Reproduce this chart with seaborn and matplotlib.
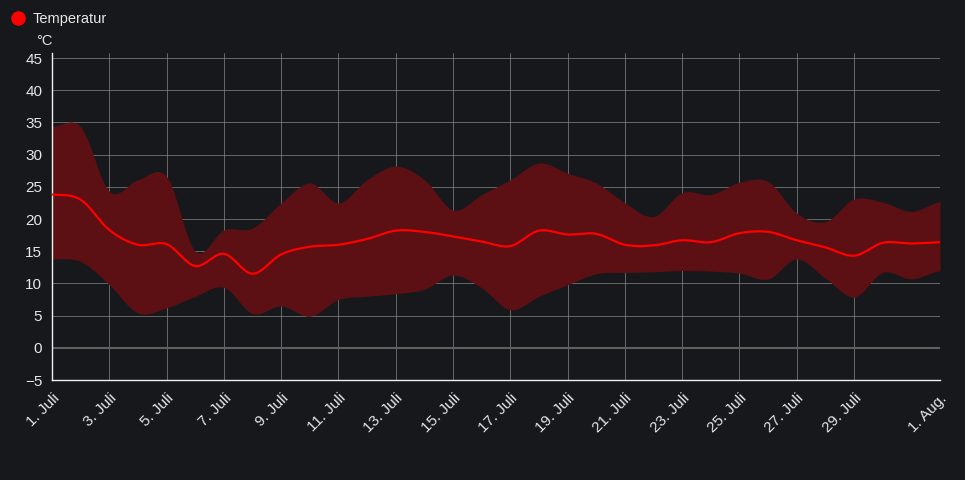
import matplotlib
matplotlib.use("Agg")
import matplotlib.pyplot as plt
import matplotlib.dates as mdates
from matplotlib.lines import Line2D
import numpy as np
import pandas as pd
import seaborn as sns

# daily values, 1. Juli .. 1. Aug.
days = pd.date_range("2024-07-01", "2024-08-01", freq="D")
temp_mean = [23.8, 23.0, 18.3, 16.0, 16.1, 12.7, 14.6, 11.5, 14.5, 15.7,
             16.0, 16.9, 18.2, 18.0, 17.3, 16.5, 15.8, 18.2, 17.6, 17.7,
             16.0, 15.9, 16.7, 16.4, 17.8, 18.0, 16.7, 15.6, 14.3, 16.3,
             16.2, 16.4]
temp_max = [34.4, 34.3, 24.3, 26.1, 26.6, 15.0, 18.3, 18.6, 22.5, 25.6,
            22.5, 26.1, 28.2, 26.1, 21.4, 23.8, 26.1, 28.7, 27.1, 25.6,
            22.5, 20.4, 24.1, 23.8, 25.7, 25.8, 20.9, 19.6, 23.1, 22.6,
            21.2, 22.7]
temp_min = [13.8, 13.4, 9.8, 5.4, 6.2, 8.0, 9.4, 5.3, 6.5, 4.9,
            7.5, 8.0, 8.4, 9.1, 11.3, 9.3, 5.9, 8.0, 9.8, 11.5,
            11.7, 11.8, 12.0, 11.9, 11.6, 10.7, 13.8, 10.8, 7.9, 11.7,
            10.7, 12.0]

tick_days = [1, 3, 5, 7, 9, 11, 13, 15, 17, 19, 21, 23, 25, 27, 29]
tick_labels = [f"{d}. Juli" for d in tick_days] + ["1. Aug."]

BG = "#17181b"
TXT = "#e6e6e6"


def smooth(y, n=20):
    """Catmull-Rom curve through the daily points (drawing only)."""
    y = np.asarray(y, dtype=float)
    p = np.concatenate([[y[0]], y, [y[-1]]])
    out = []
    t = np.linspace(0, 1, n, endpoint=False)
    for i in range(1, len(p) - 2):
        p0, p1, p2, p3 = p[i - 1], p[i], p[i + 1], p[i + 2]
        seg = 0.5 * ((2 * p1) + (-p0 + p2) * t
                     + (2 * p0 - 5 * p1 + 4 * p2 - p3) * t ** 2
                     + (-p0 + 3 * p1 - 3 * p2 + p3) * t ** 3)
        out.append(seg)
    out.append([y[-1]])
    return np.concatenate(out)


n = 20
x_num = mdates.date2num(days)
x_fine = np.concatenate([np.linspace(x_num[i], x_num[i + 1], n, endpoint=False)
                         for i in range(len(x_num) - 1)] + [[x_num[-1]]])
df = pd.DataFrame({
    "x": x_fine,
    "mean": smooth(temp_mean, n),
    "max": smooth(temp_max, n),
    "min": smooth(temp_min, n),
})

sns.set_style("dark")
plt.rcParams["font.family"] = ["Liberation Sans", "DejaVu Sans"]

fig = plt.figure(figsize=(9.65, 4.8), dpi=100, facecolor=BG)
ax = fig.add_axes([52 / 965, 100 / 480, 888 / 965, 327 / 480])
ax.set_facecolor(BG)

ax.fill_between(df["x"], df["min"], df["max"], color="#5c1013", lw=0, zorder=2)
sns.lineplot(data=df, x="x", y="mean", color="#ff0000", lw=1.6, ax=ax, zorder=3)

ax.set_xlim(x_num[0], x_num[-1])
ax.set_ylim(-5, 45.78)
ax.set_yticks(range(-5, 50, 5))
ax.set_yticklabels(["\u22125" if v < 0 else str(v) for v in range(-5, 50, 5)])

tick_pos = [x_num[d - 1] for d in tick_days] + [x_num[-1]]
ax.set_xticks(tick_pos)
ax.set_xticklabels(tick_labels, rotation=45, ha="right", rotation_mode="anchor")

ax.grid(True, color="#8a8a8a", lw=0.7, alpha=0.7, zorder=1)
ax.axhline(0, color="#5f5f5f", lw=1.5, zorder=1)
ax.set_axisbelow(True)

for side in ["top", "right"]:
    ax.spines[side].set_visible(False)
for side in ["left", "bottom"]:
    ax.spines[side].set_color("#f0f0f0")
    ax.spines[side].set_linewidth(1.0)

ax.tick_params(axis="both", colors=TXT, labelsize=11, length=5, width=1,
               direction="out", pad=2)
ax.tick_params(axis="x", colors="#f0f0f0", labelcolor=TXT, pad=3)
ax.set_xlabel("")
ax.set_ylabel("")

# legend and unit label
fig.add_artist(Line2D([18 / 965], [1 - 18 / 480], transform=fig.transFigure,
                      marker="o", markersize=9.5, color="#ff0000", lw=0))
fig.text(33 / 965, 1 - 19 / 480, "Temperatur", color=TXT, fontsize=10.5,
         va="center", ha="left")
fig.text(36 / 965, 1 - 41 / 480, "°C", color=TXT, fontsize=10.5,
         va="center", ha="left")

fig.savefig("out.png", dpi=100, facecolor=BG)
